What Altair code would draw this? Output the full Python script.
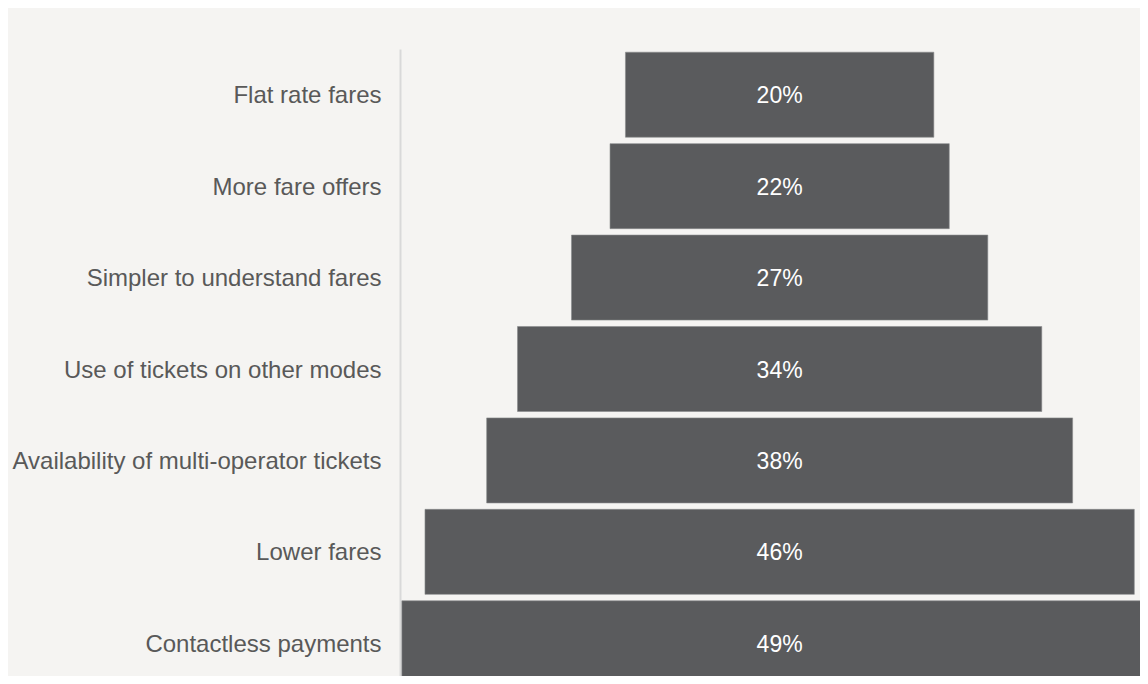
import altair as alt
import pandas as pd

categories = [
    "Flat rate fares",
    "More fare offers",
    "Simpler to understand fares",
    "Use of tickets on other modes",
    "Availability of multi-operator tickets",
    "Lower fares",
    "Contactless payments",
]
values = [20, 22, 27, 34, 38, 46, 49]

df = pd.DataFrame({"category": categories, "value": values})
df["lo"] = -df["value"] / 2
df["hi"] = df["value"] / 2
df["mid"] = 0
df["label"] = df["value"].astype(str) + "%"

W = 760
H = 640
PX = 15.42
left_val = -24.62

y = alt.Y(
    "category:N",
    sort=categories,
    scale=alt.Scale(paddingInner=0.07, paddingOuter=0.035),
    axis=alt.Axis(
        title=None,
        domain=True,
        domainColor="#d9d9d9",
        domainWidth=2,
        ticks=False,
        labelFontSize=24,
        labelFont="Liberation Sans",
        labelColor="#595959",
        labelPadding=19,
        labelLimit=500,
        labelOffset=1.5,
    ),
)
x_scale = alt.Scale(domain=[left_val, left_val + W / PX], nice=False, zero=False)

bars = alt.Chart(df).mark_bar(
    color="#5a5b5d", stroke="#8a8b8d", strokeWidth=0.6
).encode(
    y=y,
    x=alt.X("lo:Q", scale=x_scale, axis=None),
    x2="hi:Q",
)

text = alt.Chart(df).mark_text(
    color="white", fontSize=23, font="Liberation Sans", align="center",
    baseline="middle", dy=1.5
).encode(
    y=alt.Y("category:N", sort=categories),
    x=alt.X("mid:Q", scale=x_scale, axis=None),
    text="label:N",
)

chart = (
    (bars + text)
    .properties(
        width=W,
        height=H,
        background="#f5f4f2",
        padding={"left": 392, "top": 41, "right": -20, "bottom": -13},
        autosize=alt.AutoSizeParams(type="none"),
    )
    .configure_view(stroke=None)
)

chart.save("out.html", embed_options={"renderer": "svg", "actions": False})
